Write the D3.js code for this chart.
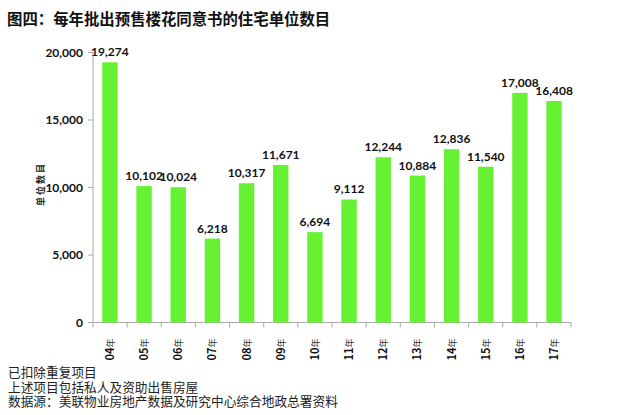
<!DOCTYPE html>
<html><head><meta charset="utf-8">
<script src="https://cdn.jsdelivr.net/npm/d3@7"></script>
<style>body{margin:0;background:#fff}svg{display:block}</style>
</head><body>
<script>
const categories = ["04","05","06","07","08","09","10","11","12","13","14","15","16","17"];
const values = [19274,10102,10024,6218,10317,11671,6694,9112,12244,10884,12836,11540,17008,16408];
const yTicks = [0,5000,10000,15000,20000];
const title = "图四：每年批出预售楼花同意书的住宅单位数目";
const yLabel = "单位数目";
const notes = ["已扣除重复项目","上述项目包括私人及资助出售房屋","数据源：美联物业房地产数据及研究中心综合地政总署资料"];

const W=640,H=415;
const svg=d3.select("body").append("svg").attr("width",W).attr("height",H);
const x=d3.scaleBand().domain(categories).range([93,571]).paddingInner(0.55).paddingOuter(0.27);
const y=d3.scaleLinear().domain([0,20000]).range([322.5,52.5]);

svg.append("text").attr("x",7).attr("y",25).text(title)
  .attr("font-family","'Noto Sans CJK SC'").attr("font-weight","bold").attr("font-size",15.4).attr("fill","#111");

// y axis
const ya=svg.append("g").attr("transform","translate(93,0)");
ya.append("line").attr("y1",y(20000)).attr("y2",y(0)).attr("stroke","#aaa");
ya.selectAll("line.t").data(yTicks).join("line").attr("class","t")
  .attr("x1",-5).attr("x2",0).attr("y1",d=>y(d)).attr("y2",d=>y(d)).attr("stroke","#aaa");
ya.selectAll("text").data(yTicks).join("text")
  .attr("x",-10).attr("y",d=>y(d)).attr("dy","0.35em").attr("text-anchor","end")
  .attr("font-family","Lato, 'Noto Sans'").attr("font-weight","bold").attr("font-size",12).attr("fill","#111")
  .text(d=>d3.format(",")(d));
svg.append("text").attr("transform","translate(44,184) rotate(-90)").attr("text-anchor","middle")
  .attr("font-family","'Noto Sans CJK SC'").attr("font-weight","bold").attr("font-size",9).attr("letter-spacing",2).attr("fill","#222").text(yLabel);

// x axis
svg.append("line").attr("x1",93).attr("x2",571).attr("y1",y(0)).attr("y2",y(0)).attr("stroke","#aaa");
const bounds=d3.range(categories.length+1).map(i=>93+i*(478/categories.length));
svg.selectAll("line.xt").data(bounds).join("line").attr("class","xt")
  .attr("x1",d=>d).attr("x2",d=>d).attr("y1",y(0)).attr("y2",y(0)+5).attr("stroke","#aaa");

// bars
svg.selectAll("rect.bar").data(values).join("rect").attr("class","bar")
  .attr("x",(d,i)=>x(categories[i])).attr("width",x.bandwidth())
  .attr("y",d=>y(d)).attr("height",d=>y(0)-y(d)).attr("fill","#66F233");

svg.selectAll("text.v").data(values).join("text").attr("class","v")
  .attr("x",(d,i)=>x(categories[i])+x.bandwidth()/2).attr("y",d=>y(d)-6)
  .attr("text-anchor","middle").attr("font-family","Lato, 'Noto Sans'").attr("font-weight","bold")
  .attr("font-size",12).attr("fill","#111").text(d=>d3.format(",")(d));

// x labels rotated
const xl=svg.selectAll("g.xl").data(categories).join("g").attr("class","xl")
  .attr("transform",d=>`translate(${x(d)+x.bandwidth()/2+4},${y(0)+27}) rotate(-90)`);
xl.append("text").attr("text-anchor","middle")
  .attr("font-family","'Noto Sans CJK SC'").attr("font-size",11).attr("fill","#111")
  .each(function(d){
    const t=d3.select(this);
    t.append("tspan").attr("font-weight","bold").text(d);
    t.append("tspan").attr("font-size",9).attr("fill","#333").text("年");
  });

// notes
svg.selectAll("text.n").data(notes).join("text").attr("class","n")
  .attr("x",8).attr("y",(d,i)=>377+i*14.7)
  .attr("font-family","'Liberation Serif', 'Noto Sans CJK SC'").attr("font-size",12.7).attr("fill","#222").text(d=>d);
</script>
</body></html>
